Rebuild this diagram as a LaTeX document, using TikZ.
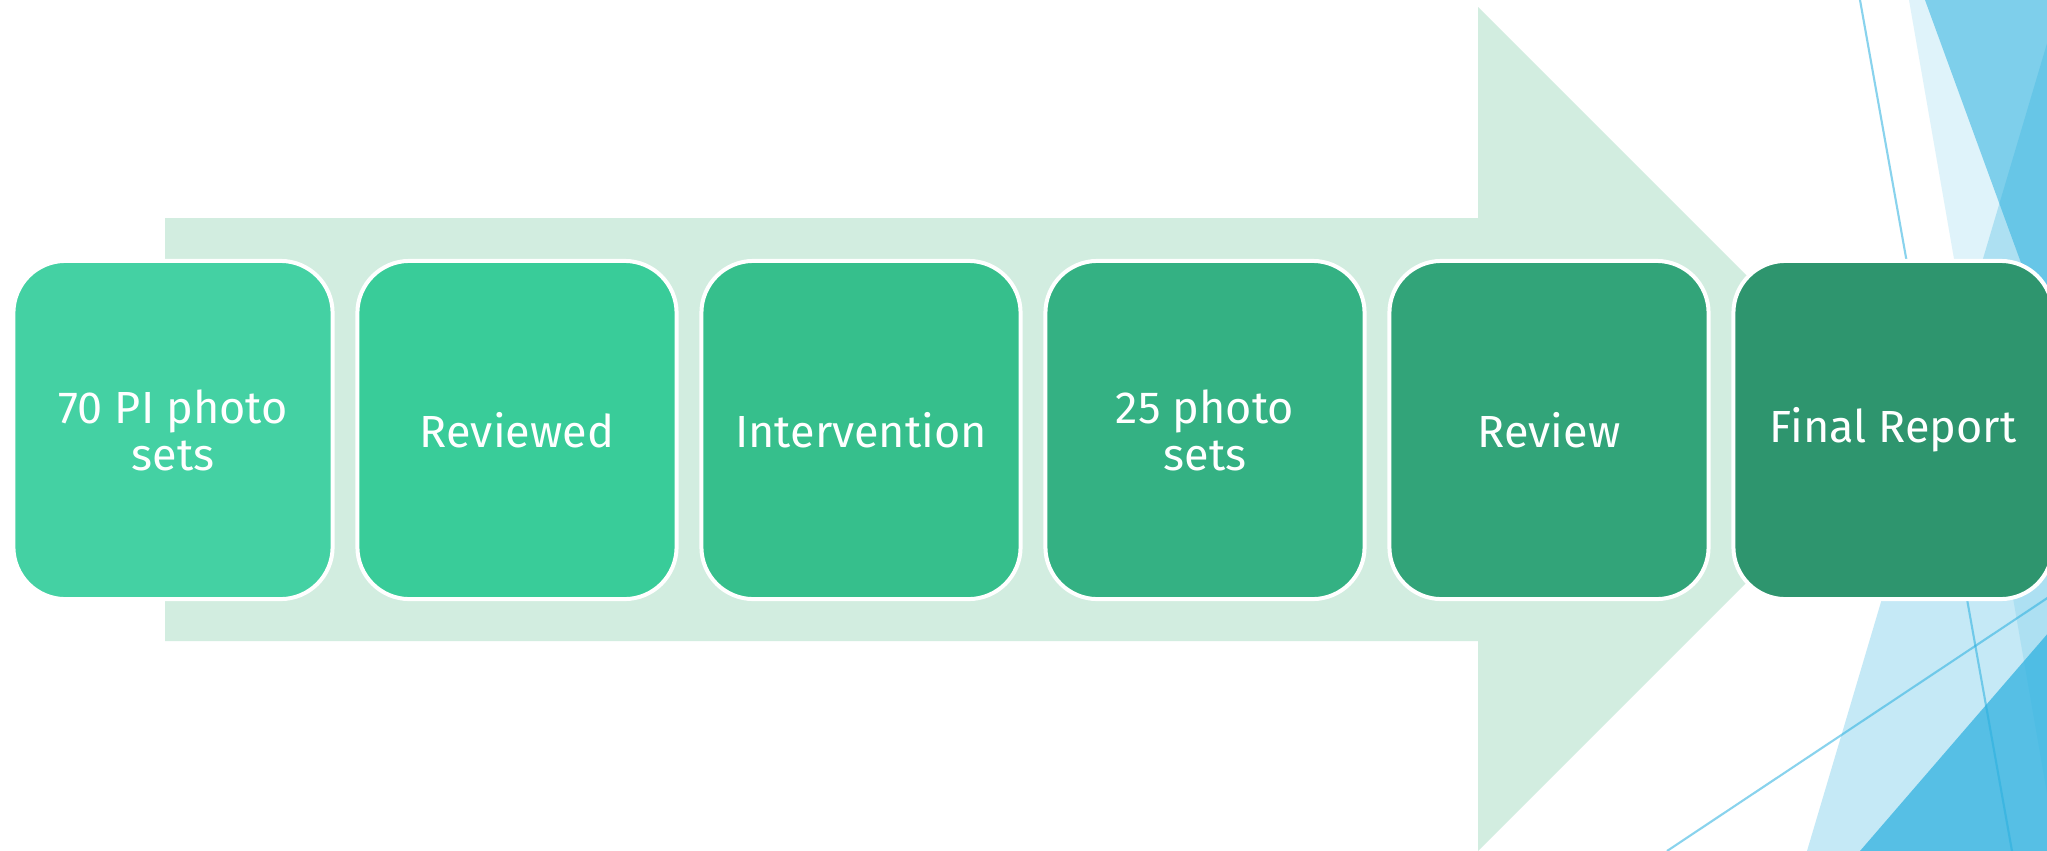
\documentclass[tikz,border=0pt]{standalone}
\usepackage{fontspec}
\setmainfont{Fira Sans}
\usepackage{tikz}

\definecolor{bandgreen}{RGB}{210,237,224}
\definecolor{facetblue}{RGB}{41,175,223}
\definecolor{stageA}{RGB}{68,209,163}
\definecolor{stageB}{RGB}{57,204,153}
\definecolor{stageC}{RGB}{54,191,140}
\definecolor{stageD}{RGB}{52,177,131}
\definecolor{stageE}{RGB}{50,164,121}
\definecolor{stageF}{RGB}{46,149,110}

\begin{document}
\begin{tikzpicture}[
  x=0.01cm, y=-0.01cm,
  font=\fontsize{12.8}{13.4}\selectfont,
  stagebox/.style={draw=white, line width=0.04cm, rounded corners=0.52cm, text=white, align=center, minimum width=3.19cm, minimum height=3.38cm, inner sep=2pt},
  facetline/.style={draw=facetblue, draw opacity=0.55, line width=0.6pt}
]
\useasboundingbox (0,0) rectangle (2047,851);
\clip (0,0) rectangle (2047,851);
\fill[white] (0,0) rectangle (2047,851);

% facets on the right
\fill[facetblue, opacity=0.15] (1909,0) -- (2057,851) -- (2100,851) -- (2100,0) -- cycle;
\fill[facetblue, opacity=0.53] (1925,0) -- (2100,479) -- (2100,0) -- cycle;
\fill[facetblue, opacity=0.27] (2100,-135) -- (1807,851) -- (2100,851) -- cycle;
\fill[facetblue, opacity=0.71] (2100,573) -- (1860,851) -- (2100,851) -- cycle;
\draw[facetline] (1860,0) -- (2012,851);
\draw[facetline] (2100,563) -- (1667,851);

% big arrow behind the stages
\fill[bandgreen] (165,218) -- (1478,218) -- (1478,7) -- (1900,429) -- (1478,851) -- (1478,641) -- (165,641) -- cycle;

\node[stagebox, fill=stageA] (s1) at (173,430) {70 PI photo\\sets};
\node[stagebox, fill=stageB] (s2) at (517,430) {Reviewed};
\node[stagebox, fill=stageC] (s3) at (861,430) {Intervention};
\node[stagebox, fill=stageD] (s4) at (1205,430) {25 photo\\sets};
\node[stagebox, fill=stageE] (s5) at (1549,430) {Review};
\node[stagebox, fill=stageF] (s6) at (1893,430) {Final Report};
\end{tikzpicture}
\end{document}
